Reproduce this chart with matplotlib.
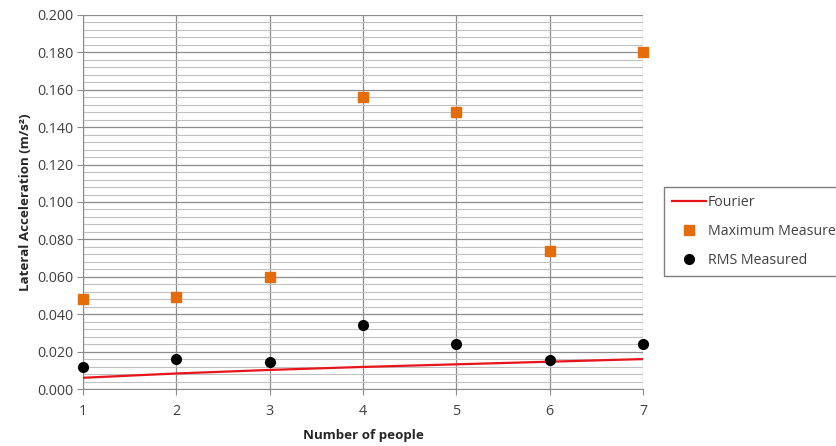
import matplotlib
matplotlib.use("Agg")
import matplotlib.pyplot as plt
from matplotlib.ticker import MultipleLocator, FormatStrFormatter

plt.rcParams['font.family'] = ['Open Sans', 'DejaVu Sans']

people = [1, 2, 3, 4, 5, 6, 7]
fourier = [0.0060, 0.0083, 0.0102, 0.0118, 0.0132, 0.0146, 0.0160]
max_measured = [0.048, 0.049, 0.060, 0.156, 0.148, 0.074, 0.180]
rms_measured = [0.012, 0.016, 0.0145, 0.034, 0.024, 0.0155, 0.024]

fig = plt.figure(figsize=(8.37, 4.46), dpi=100)
ax = fig.add_axes([0.0992, 0.1278, 0.669, 0.8386])

ax.plot(people, fourier, color='#e8141b', lw=1.6, label='Fourier', zorder=3)
ax.plot(people, max_measured, ls='none', marker='s', ms=6.5, color='#e46c0a',
        label='Maximum Measured', zorder=4, clip_on=False)
ax.plot(people, rms_measured, ls='none', marker='o', ms=7, color='black',
        label='RMS Measured', zorder=4, clip_on=False)

ax.set_xlim(1, 7)
ax.set_ylim(0, 0.2)
ax.xaxis.set_major_locator(MultipleLocator(1))
ax.yaxis.set_major_locator(MultipleLocator(0.02))
ax.yaxis.set_minor_locator(MultipleLocator(0.004))
ax.yaxis.set_major_formatter(FormatStrFormatter('%.3f'))

ax.grid(which='major', axis='both', color='#8c8c8c', lw=0.9)
ax.grid(which='minor', axis='y', color='#c0c0c0', lw=0.8)
ax.set_axisbelow(True)

for side in ['top', 'right']:
    ax.spines[side].set_visible(False)
for side in ['left', 'bottom']:
    ax.spines[side].set_color('#8c8c8c')

ax.tick_params(axis='both', which='major', labelsize=10.3, colors='#404040',
               length=4, color='#8c8c8c')
ax.tick_params(axis='y', which='minor', length=0)
ax.tick_params(axis='y', which='major', pad=3)
ax.tick_params(axis='x', which='major', pad=7)

ax.set_xlabel('Number of people', fontsize=9.6, fontweight='bold', color='#262626', labelpad=7)
ax.set_ylabel('Lateral Acceleration (m/s²)', fontsize=9.6, fontweight='bold', color='#262626', labelpad=4)

leg = fig.legend(loc='upper left', bbox_to_anchor=(0.793, 0.581),
                 bbox_transform=fig.transFigure, borderaxespad=0,
                 fancybox=False, edgecolor='#7f7f7f', fontsize=10.2,
                 labelspacing=1.0, handlelength=2.4, handletextpad=0.15,
                 borderpad=0.55, framealpha=1)
leg.get_frame().set_linewidth(1.0)
for t in leg.get_texts():
    t.set_color('#404040')

fig.savefig('out.png', dpi=100)
